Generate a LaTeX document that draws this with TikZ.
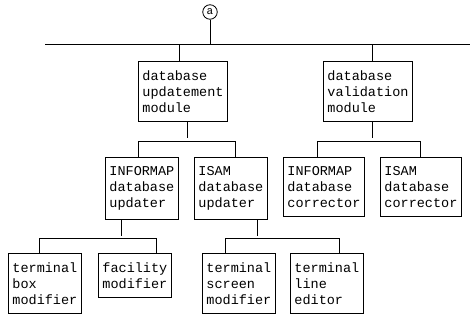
\documentclass[tikz,border=0pt]{standalone}
\usepackage{fontspec}
\usepackage{tikz}
\newfontfamily\boxfont{Liberation Mono}
\tikzset{
  module/.style={draw, line width=0.9pt, anchor=north west, align=left,
    inner xsep=4pt, inner ysep=9pt, font=\boxfont\fontsize{13.5}{16}\selectfont},
  link/.style={line width=0.9pt}
}

\begin{document}
\begin{tikzpicture}[x=1pt, y=-1pt]

    \useasboundingbox (0,0) rectangle (470,321);

    % Entry point and main bus
    \node[draw, circle, line width=0.8pt, minimum size=14.5pt, inner sep=0pt,
          font=\boxfont\fontsize{11}{11}\selectfont] (entry) at (210,12) {a};
    \coordinate (busL) at (45,44);
    \coordinate (busR) at (470,44);
    \draw[link] (busL) -- (busR);
    \draw[link] (entry.south) -- (entry.south |- busL);

    % Second level
    \node[module] (dbupd) at (138,61) {database\\updatement\\module};
    \node[module] (dbval) at (323,61) {database\\validation\\module};

    % Third level
    \node[module] (infupd) at (105,157) {INFORMAP\\database\\updater};
    \node[module] (isupd)  at (194,157) {ISAM\\database\\updater};
    \node[module] (infcor) at (283,157) {INFORMAP\\database\\corrector};
    \node[module] (iscor)  at (380,157) {ISAM\\database\\corrector};

    % Fourth level
    \node[module] (tbox)   at (8,253)   {terminal\\box\\modifier};
    \node[module] (facmod) at (98,253)  {facility\\modifier};
    \node[module] (tscr)   at (202,253) {terminal\\screen\\modifier};
    \node[module] (tline)  at (290,253) {terminal\\line\\editor};

    % Bus to modules
    \draw[link] ([xshift=-4pt]dbupd.north) -- ([xshift=-4pt]dbupd.north |- busL);
    \draw[link] ([xshift=4pt]dbval.north) -- ([xshift=4pt]dbval.north |- busL);

    % Module trees
    \draw[link] ([xshift=4pt]dbupd.south) -- ++(0,16);
    \draw[link] ([xshift=-3pt]infupd.north) -- ++(0,-16) -| ([xshift=5pt]isupd.north);
    \draw[link] ([xshift=4pt]dbval.south) -- ++(0,16);
    \draw[link] ([xshift=-6pt]infcor.north) -- ++(0,-16) -| (iscor.north);

    \draw[link] ([xshift=-20pt]infupd.south) -- ++(0,16);
    \draw[link] ([xshift=-5pt]tbox.north) -- ++(0,-15) -| ([xshift=22pt]facmod.north);
    \draw[link] ([xshift=27pt]isupd.south) -- ++(0,16);
    \draw[link] ([xshift=-13pt]tscr.north) -- ++(0,-15) -| ([xshift=13pt]tline.north);

\end{tikzpicture}
\end{document}
